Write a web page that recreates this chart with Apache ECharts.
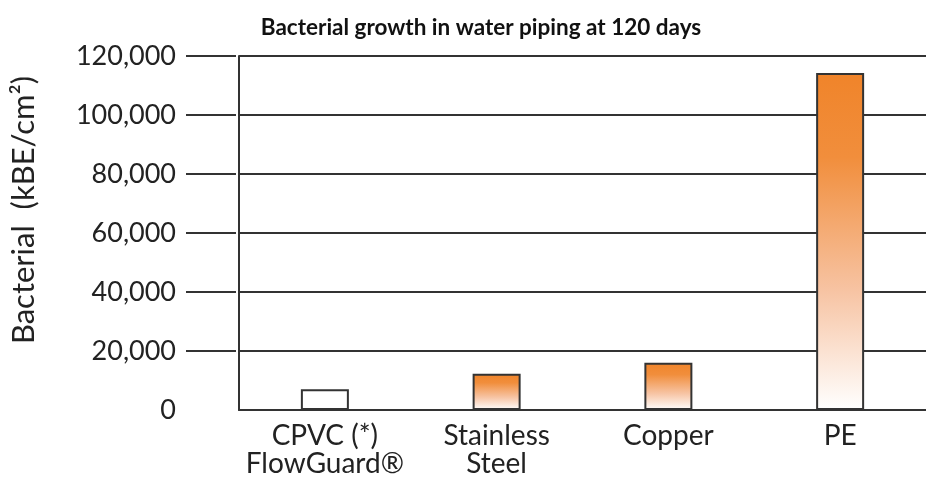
<!DOCTYPE html>
<html>
<head>
<meta charset="utf-8">
<script src="https://cdn.jsdelivr.net/npm/echarts@6/dist/echarts.min.js"></script>
<style>
  html, body { margin: 0; padding: 0; background: #fff; }
  #chart { width: 926px; height: 484px; }
</style>
</head>
<body>
<div id="chart"></div>
<script>
// data
var categories = ['CPVC (*)\nFlowGuard®', 'Stainless\nSteel', 'Copper', 'PE']
var growth = [7000, 12300, 16000, 114200]
var plainBar = [true, false, false, false] // CPVC drawn without the orange fill
var stubTicks = [20000, 40000, 60000, 80000, 100000, 120000] // gridlines that stick out left

var font = 'Lato, "Open Sans", sans-serif'
var ink = '#222'
var gridLeft = 236, gridTop = 56, gridBottom = 74
var yMax = 120000
var stubLen = 50

function barFill(plain) {
  if (plain) return '#fff'
  return {
    type: 'linear', x: 0, y: 0, x2: 0, y2: 1,
    colorStops: [
      { offset: 0, color: '#f0842a' },
      { offset: 0.25, color: '#f18e3c' },
      { offset: 0.65, color: '#f7c4a4' },
      { offset: 1, color: '#ffffff' }
    ]
  }
}

var chart = echarts.init(document.getElementById('chart'))
chart.setOption({
  backgroundColor: '#fff',
  animation: false,
  title: {
    text: 'Bacterial growth in water piping at 120 days',
    left: 476,
    textAlign: 'center',
    top: 11,
    textStyle: { fontFamily: font, fontWeight: 'bold', fontSize: 22.5, color: '#111' }
  },
  grid: { left: gridLeft, right: 0, top: gridTop, bottom: gridBottom },
  xAxis: {
    type: 'category',
    data: categories,
    axisLine: { lineStyle: { color: '#333', width: 2 } },
    axisTick: { show: false },
    axisLabel: {
      interval: 0,
      margin: 12,
      color: ink,
      fontFamily: font,
      fontSize: 28,
      lineHeight: 28
    }
  },
  yAxis: {
    type: 'value',
    min: 0,
    max: yMax,
    interval: 20000,
    name: 'Bacterial  (kBE/cm²)',
    nameLocation: 'middle',
    nameGap: 200,
    nameTextStyle: { fontFamily: font, fontSize: 31, color: ink, padding: [0, 0, 0, 46] },
    axisLine: { show: true, lineStyle: { color: '#333', width: 2 } },
    axisTick: { show: false },
    splitLine: { show: true, lineStyle: { color: '#333', width: 2 } },
    axisLabel: {
      margin: 63,
      color: ink,
      fontFamily: font,
      fontSize: 27
    }
  },
  series: [{
    type: 'bar',
    barWidth: 48,
    data: growth.map(function (v, i) {
      return {
        value: v,
        itemStyle: { color: barFill(plainBar[i]), borderColor: '#333', borderWidth: 2 }
      }
    })
  }]
})

// stubs left of the axis, placed with the y axis scale
var plotH = 484 - gridTop - gridBottom
var stubs = stubTicks.map(function (v) {
  var y = chart.convertToPixel({ yAxisIndex: 0 }, v)
  if (Array.isArray(y)) y = y[1]
  if (!isFinite(y)) y = gridTop + (1 - v / yMax) * plotH
  return {
    type: 'line',
    silent: true,
    z: 100,
    shape: { x1: gridLeft - stubLen, y1: y, x2: gridLeft, y2: y },
    style: { stroke: '#333', lineWidth: 2 }
  }
})
chart.setOption({ graphic: { elements: stubs } })
</script>
</body>
</html>
